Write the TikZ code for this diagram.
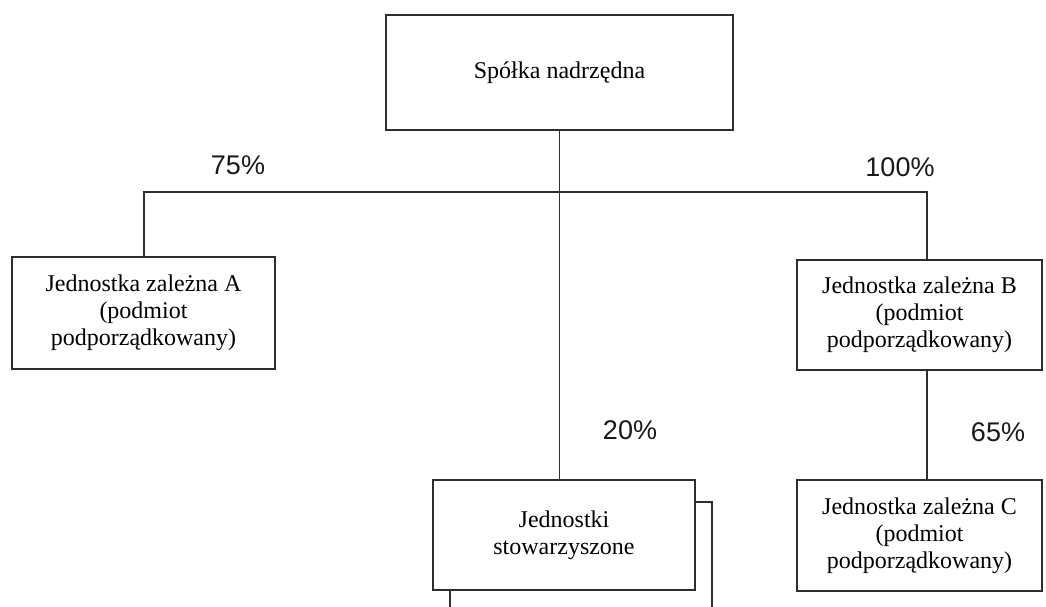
\documentclass[tikz,border=0pt]{standalone}
\usepackage{fontspec}
\setmainfont{Liberation Serif}
\newfontfamily\pctfont{Liberation Sans}
\begin{document}
\begin{tikzpicture}[x=1pt,y=-1pt,
  line width=1.8pt,
  ink/.style={draw=black!82},
  unit/.style={ink, fill=white, rectangle, inner sep=0pt, align=center,
    font=\fontsize{24}{27}\selectfont, text=black},
  pct/.style={font=\pctfont\fontsize{27}{30}\selectfont, text=black!90}]
  \useasboundingbox (0,0) rectangle (1046,607);
  \clip (0,0) rectangle (1046,607);

  % parent company
  \node[unit, minimum width=347pt, minimum height=115pt] (top) at (559.5,72.5) {Spółka nadrzędna};

  % subsidiaries
  \node[unit, minimum width=263pt, minimum height=112pt] (A) at (143.5,313)
    {Jednostka zależna A\\(podmiot\\podporządkowany)};
  \node[unit, minimum width=245pt, minimum height=110pt] (B) at (919.5,315)
    {Jednostka zależna B\\(podmiot\\podporządkowany)};
  \node[unit, minimum width=245pt, minimum height=111pt] (C) at (919.5,535.5)
    {Jednostka zależna C\\(podmiot\\podporządkowany)};

  % associates: stacked boxes
  \node[unit, minimum width=262pt, minimum height=110pt] (Sback) at (581,557) {};
  \node[unit, minimum width=262pt, minimum height=110pt] (S) at (564,535)
    {Jednostki\\stowarzyszone};

  % ownership bus
  \coordinate (busL) at (144,192);
  \coordinate (busR) at (927,192);
  \draw[ink] (A.north -| busL) -- (busL) -- (busR) -- (busR |- B.north);
  \draw[ink] (top.south) -- (top.south |- S.north);
  \draw[ink] (busR |- B.south) -- (busR |- C.north);

  % shares
  \node[pct] (pA) at (238,165) {75\%};
  \node[pct] (pB) at (900,167) {100\%};
  \node[pct] (pS) at (630,430) {20\%};
  \node[pct] (pC) at (998,432) {65\%};
\end{tikzpicture}
\end{document}
